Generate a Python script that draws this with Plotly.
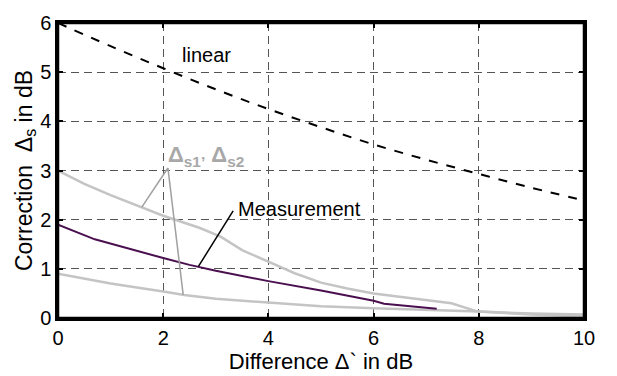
import plotly.graph_objects as go

# ---- data ----
linear_x = [0, 1, 2, 3, 4, 5, 6, 7, 8, 9, 10]
linear_y = [6.0, 5.53, 5.08, 4.65, 4.25, 3.88, 3.53, 3.22, 2.93, 2.65, 2.39]

upper_x = [0, 0.5, 1, 1.6, 2, 2.7, 3.1, 3.5, 4, 4.5, 5, 5.5, 6, 6.5, 7, 7.48, 7.98, 9, 10]
upper_y = [3.0, 2.73, 2.5, 2.25, 2.08, 1.83, 1.65, 1.38, 1.15, 0.91, 0.72, 0.6, 0.5, 0.43, 0.37, 0.30, 0.13, 0.09, 0.07]

lower_x = [0, 1, 2, 2.4, 3, 4, 5, 6, 7, 8, 9, 10]
lower_y = [0.9, 0.7, 0.54, 0.47, 0.39, 0.31, 0.24, 0.2, 0.17, 0.13, 0.07, 0.03]

meas_x = [0, 0.7, 2, 2.5, 3, 4, 5, 6, 6.2, 7.2]
meas_y = [1.9, 1.6, 1.22, 1.08, 0.96, 0.75, 0.56, 0.35, 0.29, 0.19]

x_ticks = [0, 2, 4, 6, 8, 10]
y_ticks = [0, 1, 2, 3, 4, 5, 6]

# label anchors / pointer lines (data coords)
linear_label = (2.83, 5.35)
delta_label = (2.09, 3.05)
delta_ptr_ends = [(1.59, 2.25), (2.38, 0.47)]
meas_label = (4.6, 2.21)
meas_ptr = [(3.33, 2.18), (2.67, 1.05)]

FONT = "Arial, Liberation Sans, sans-serif"
GRAY_LINE = "#c4c4c4"
GRAY_TEXT = "#a8a8a8"

fig = go.Figure()
fig.add_trace(go.Scatter(x=upper_x, y=upper_y, mode="lines",
                         line=dict(color=GRAY_LINE, width=2.5), showlegend=False))
fig.add_trace(go.Scatter(x=lower_x, y=lower_y, mode="lines",
                         line=dict(color=GRAY_LINE, width=2.5), showlegend=False))
fig.add_trace(go.Scatter(x=meas_x, y=meas_y, mode="lines",
                         line=dict(color="#4a0f4f", width=2), showlegend=False))
fig.add_trace(go.Scatter(x=linear_x, y=linear_y, mode="lines",
                         line=dict(color="black", width=2, dash="dash"),
                         line_shape="spline", showlegend=False))

shapes = []
for ex, ey in delta_ptr_ends:
    shapes.append(dict(type="line", xref="x", yref="y",
                       x0=delta_label[0], y0=delta_label[1], x1=ex, y1=ey,
                       line=dict(color="#a0a0a0", width=1.5)))
shapes.append(dict(type="line", xref="x", yref="y",
                   x0=meas_ptr[0][0], y0=meas_ptr[0][1], x1=meas_ptr[1][0], y1=meas_ptr[1][1],
                   line=dict(color="black", width=1.5)))
# plot frame
shapes.append(dict(type="rect", xref="paper", yref="paper", x0=0, y0=0, x1=1, y1=1,
                   line=dict(color="#000000", width=2.5), fillcolor="rgba(0,0,0,0)",
                   layer="above"))

annotations = [
    dict(x=linear_label[0], y=linear_label[1], text="linear", showarrow=False,
         font=dict(family=FONT, size=20, color="black"), xanchor="center", yanchor="middle"),
    dict(x=delta_label[0], y=delta_label[1], text="<b>Δ<sub>s1’</sub> Δ<sub>s2</sub></b>",
         showarrow=False, font=dict(family=FONT, size=22, color=GRAY_TEXT),
         xanchor="left", yanchor="bottom", yshift=-4, xshift=-2),
    dict(x=meas_label[0], y=meas_label[1], text="Measurement", showarrow=False,
         font=dict(family=FONT, size=20, color="black"), xanchor="center", yanchor="middle"),
]

axis_common = dict(
    showline=True, linecolor="#000000", linewidth=2.5, mirror="allticks",
    ticks="inside", ticklen=5, tickcolor="#000000", tickwidth=1.5,
    showgrid=True, gridcolor="#555555", gridwidth=1, griddash="8px,5px",
    zeroline=False, tickfont=dict(family=FONT, size=20, color="black"),
)

fig.update_layout(
    width=617, height=376,
    margin=dict(l=58, r=33, t=15, b=52),
    paper_bgcolor="white", plot_bgcolor="white",
    shapes=shapes, annotations=annotations,
    xaxis=dict(range=[0, 10], tickvals=x_ticks,
               title=dict(text="Difference Δ` in dB", font=dict(family=FONT, size=22, color="black"),
                          standoff=0),
               **axis_common),
    yaxis=dict(range=[0, 6], tickvals=y_ticks,
               title=dict(text="Correction  Δ<sub>s</sub> in dB",
                          font=dict(family=FONT, size=23, color="black"), standoff=2),
               **axis_common),
)

fig.write_html("out.html")
